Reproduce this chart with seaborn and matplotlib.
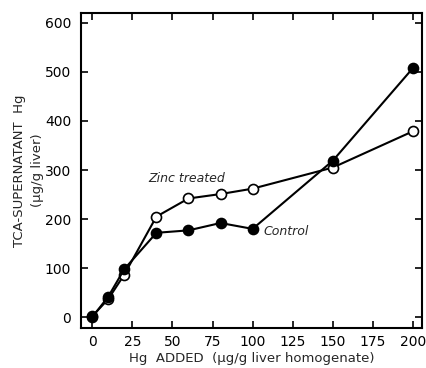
import matplotlib
matplotlib.use("Agg")
import matplotlib.pyplot as plt
import seaborn as sns
import pandas as pd

hg_added = [0, 10, 20, 40, 60, 80, 100, 150, 200]
control = [0, 42, 98, 172, 177, 192, 180, 319, 508]
zinc = [2, 37, 87, 205, 242, 251, 262, 305, 379]
xticks = [0, 25, 50, 75, 100, 125, 150, 175, 200]
yticks = [0, 100, 200, 300, 400, 500, 600]

sns.set_theme(style="ticks")
plt.rcParams['font.family'] = ['DejaVu Sans']

df = pd.DataFrame({"x": hg_added + hg_added,
                   "y": control + zinc,
                   "g": ["Control"] * len(hg_added) + ["Zinc treated"] * len(hg_added)})

fig = plt.figure(figsize=(4.26, 3.68), dpi=100)
ax = fig.add_axes([81/426, 1 - 328/368, (422-81)/426, (328-13)/368])

sns.lineplot(data=df[df.g == "Zinc treated"], x="x", y="y", ax=ax, color="black",
             lw=1.5, marker="o", markersize=7.2, markerfacecolor="white",
             markeredgecolor="black", markeredgewidth=1.2, zorder=3)
sns.lineplot(data=df[df.g == "Control"], x="x", y="y", ax=ax, color="black",
             lw=1.5, marker="o", markersize=7.2, markerfacecolor="black",
             markeredgecolor="black", markeredgewidth=1.2, zorder=4)

ax.set_xlim(-7, 205.6)
ax.set_ylim(-22, 620)
ax.set_xticks(xticks)
ax.set_yticks(yticks)
ax.tick_params(direction="in", length=5, width=1.2, top=True, right=True,
               labelsize=10, colors="black", pad=7)
ax.tick_params(axis="x", pad=5)
for s in ax.spines.values():
    s.set_linewidth(1.5)
    s.set_color("black")

ax.set_xlabel("Hg  ADDED  (μg/g liver homogenate)", fontsize=9.5, labelpad=2)
ax.set_ylabel("TCA-SUPERNATANT  Hg\n(μg/g liver)", fontsize=9.5, labelpad=1,
              linespacing=1.5)

ax.text(35, 282, "Zinc treated", fontsize=9, style="italic", ha="left", va="center")
ax.text(107, 175, "Control", fontsize=9, style="italic", ha="left", va="center")

fig.savefig("out.png", dpi=100)
